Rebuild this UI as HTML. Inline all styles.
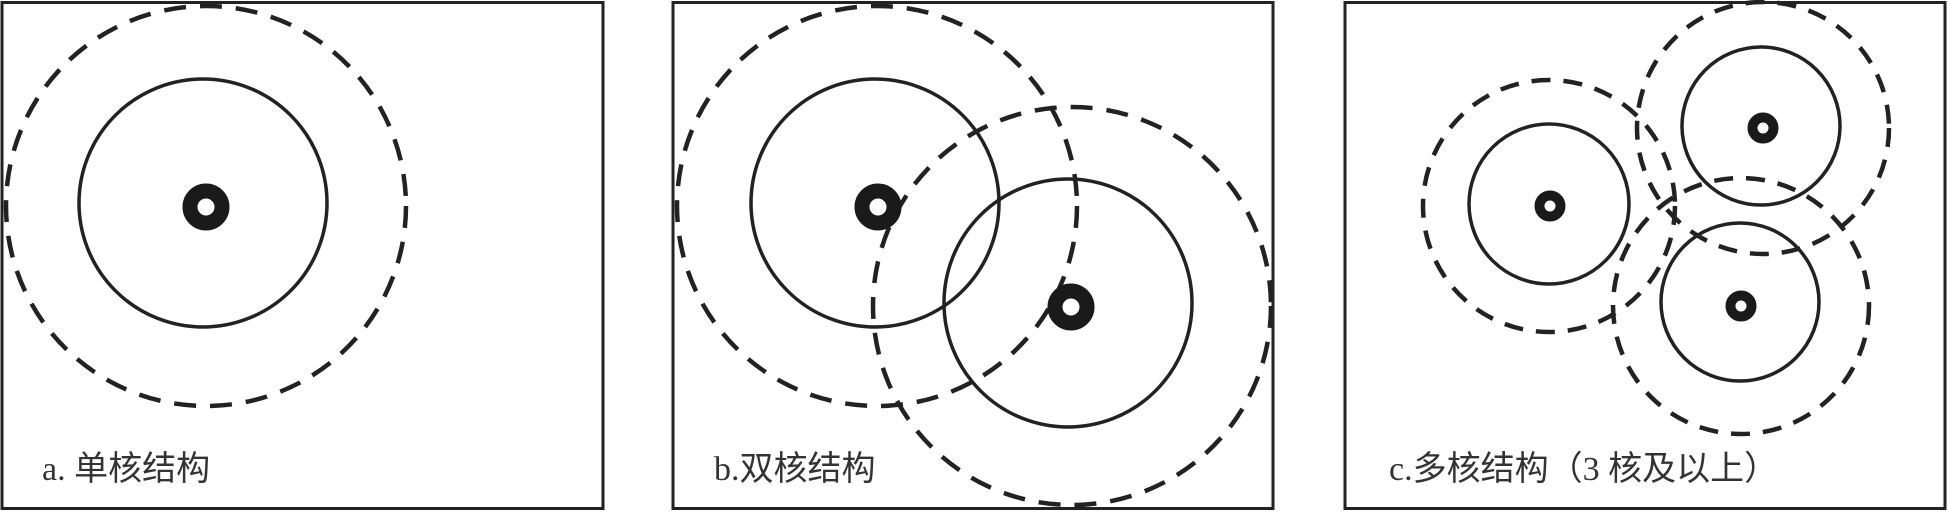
<!DOCTYPE html>
<html><head><meta charset="utf-8"><style>
html,body{margin:0;padding:0;background:#fff;}
svg{display:block;}
text{font-family:"Liberation Serif","Noto Sans CJK SC",serif;font-size:34px;fill:#333;}
</style></head><body>
<svg width="1948" height="512" viewBox="0 0 1948 512" xmlns="http://www.w3.org/2000/svg">
<g fill="none" stroke="#222">
 <rect x="2" y="2.5" width="601" height="506" stroke-width="3"/>
 <rect x="673" y="2.5" width="600" height="506" stroke-width="3"/>
 <rect x="1345" y="2.5" width="600" height="506" stroke-width="3"/>
 <circle cx="203" cy="203" r="124" stroke-width="3.5"/>
 <circle cx="206" cy="206" r="200" stroke-width="4.5" stroke-dasharray="22 14"/>
 <circle cx="875" cy="203" r="124" stroke-width="3.5"/>
 <circle cx="1068" cy="303" r="124" stroke-width="3.5"/>
 <circle cx="877" cy="206" r="200" stroke-width="4.5" stroke-dasharray="22 14"/>
 <circle cx="1072" cy="306" r="199" stroke-width="4.5" stroke-dasharray="22 14"/>
 <circle cx="1549" cy="204" r="80" stroke-width="3.5"/>
 <circle cx="1761" cy="126" r="79" stroke-width="3.5"/>
 <circle cx="1740" cy="302" r="79" stroke-width="3.5"/>
 <circle cx="1549" cy="206" r="126" stroke-width="4.5" stroke-dasharray="19 13"/>
 <circle cx="1763" cy="128" r="126" stroke-width="4.5" stroke-dasharray="19 13"/>
 <circle cx="1741" cy="306" r="128" stroke-width="4.5" stroke-dasharray="19 13"/>
</g>
<g fill="none" stroke="#1a1a1a">
 <circle cx="206" cy="207" r="16" stroke-width="15"/>
 <circle cx="878" cy="207" r="16" stroke-width="15"/>
 <circle cx="1071" cy="307" r="16" stroke-width="15"/>
 <circle cx="1550" cy="206" r="10.5" stroke-width="10"/>
 <circle cx="1763" cy="128" r="10.5" stroke-width="10"/>
 <circle cx="1741" cy="306" r="10.5" stroke-width="10"/>
</g>
<text x="42" y="480">a. 单核结构</text>
<text x="714" y="480">b.双核结构</text>
<text x="1389" y="480">c.多核结构（3 核及以上）</text>
</svg>
</body></html>
